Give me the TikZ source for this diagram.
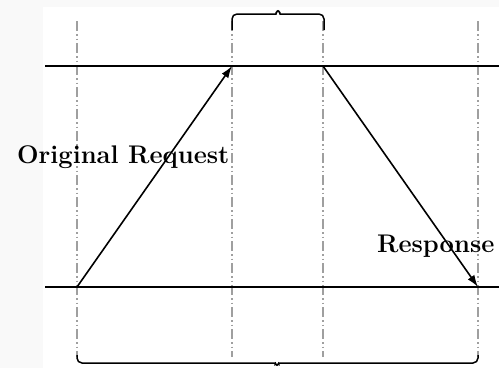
\documentclass[tikz,border=0pt]{standalone}
\usetikzlibrary{arrows.meta}
\begin{document}
\begin{tikzpicture}[x=1pt,y=-1pt,
    timeline/.style={line width=2.8pt},
    guide/.style={gray!75,line width=1.6pt,dash pattern=on 10pt off 3pt on 1.5pt off 3pt on 1.5pt off 3pt},
    msg/.style={line width=1.6pt,-{Latex[length=12pt,width=8pt]}},
    bracepath/.style={line width=1.5pt,rounded corners=5pt},
    lbl/.style={font=\fontsize{25.5}{31}\selectfont\bfseries,inner sep=0pt,anchor=base west}]
	% page and slide area
	\fill[gray!5] (0,0) rectangle (499,368);
	\fill[white] (43,7) rectangle (499,368);
	\useasboundingbox (0,0) rectangle (499,368);
	% dash-dot guides
	\foreach \x in {77,232,323,478}
		\draw[guide] (\x,21) -- (\x,357);
	% the two time lines
	\draw[timeline] (45,66) -- (499,66);
	\draw[timeline] (45,287) -- (499,287);
	% message ends
	\coordinate (reqstart) at (77,287);
	\coordinate (reqend) at (232,66);
	\coordinate (respstart) at (323,66);
	\coordinate (respend) at (478,287);
	\draw[msg] (reqstart) -- (reqend);
	\draw[msg] (respstart) -- (respend);
	% braces
	\draw[bracepath] (232,30) |- (271,14) .. controls (275,14) and (277,11) .. (278,8) .. controls (279,11) and (281,14) .. (285,14) -| (324,30);
	\draw[bracepath] (77,355) |- (270,363) .. controls (274,363) and (276,365) .. (277,368) .. controls (278,365) and (280,363) .. (284,363) -| (478,355);
	% labels
	\node[lbl] (reqlabel) at (17,163) {Original Request};
	\node[lbl] (resplabel) at (377,252) {Response};
\end{tikzpicture}
\end{document}
